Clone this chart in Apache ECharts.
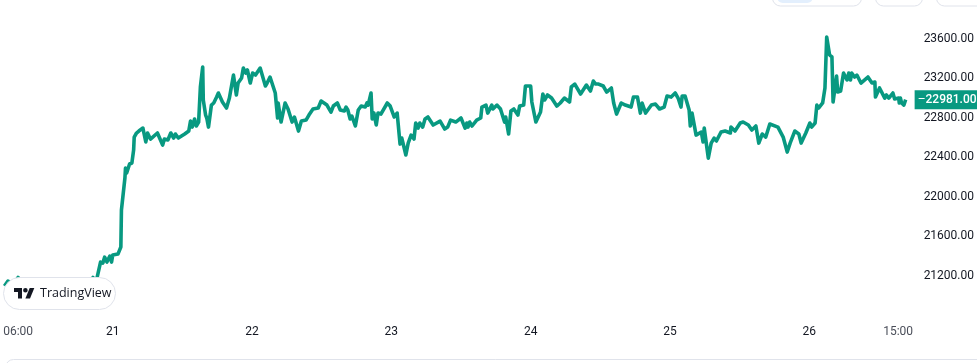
<!DOCTYPE html>
<html>
<head>
<meta charset="utf-8">
<title>Price chart</title>
<style>
  html, body { margin: 0; padding: 0; background: #fff; }
  #chart { width: 977px; height: 363px; }
</style>
</head>
<body>
<div id="chart"></div>
<script src="https://cdn.jsdelivr.net/npm/echarts@6/dist/echarts.min.js"></script>
<script>
const pricePoints = [
  [-18.65,21093],[-18.05,21143],[-17,21113],[-16.3,21180],[-15.6,21113],[-12.5,21100],[-9.1,21110],[-5.7,21100],[-4.2,21110],[-3.4,21180],[-2.9,21125],[-2.6,21204],
  [-2.1,21336],[-1.7,21326],[-1.4,21386],[-1,21336],[-0.5,21397],[-0.2,21336],[0,21407],[0.9,21417],[1.4,21488],[1.5,21863],[1.7,21883],
  [2.1,22187],[2.2,22288],[2.4,22238],[2.9,22329],[3.3,22339],[3.6,22470],[3.7,22602],[4.1,22643],[4.5,22663],[5.2,22693],[5.7,22552],[6,22643],
  [6.5,22582],[6.9,22602],[7.2,22582],[7.7,22643],[8.6,22521],[8.9,22582],[9.5,22572],[10,22643],[10.5,22592],[10.8,22633],[11.3,22592],[12.4,22633],
  [13.1,22663],[13.4,22764],[13.7,22703],[14.1,22785],[14.4,22714],[14.8,22754],[15.1,23109],[15.5,23311],[15.6,22977],[16,22825],[16.2,22795],[16.5,22703],
  [17,22926],[17.4,22947],[17.9,23007],[18.2,23048],[18.9,22957],[19.6,22896],[20.1,22997],[20.4,23007],[20.8,23230],[21.1,23230],[21.3,23028],[21.6,23149],
  [22.2,23200],[22.5,23301],[22.9,23250],[23.2,23281],[23.7,23149],[24.1,23250],[24.6,23230],[25.4,23301],[26.3,23119],[26.6,23149],[27.1,23210],
  [28,23048],[28.4,22795],[28.5,22947],[29,22754],[29.7,22947],[30.2,22886],[30.9,22754],[31.3,22805],[31.6,22795],[32,22663],[32.5,22764],[33.3,22774],
  [33.8,22825],[34,22845],[34.5,22886],[35.4,22896],[35.9,22967],[36.4,22947],[36.9,22926],[37.6,22855],[38,22916],[38.7,22947],[39.2,22876],[39.9,22866],
  [40.2,22906],[40.5,22876],[40.9,22785],[41.2,22815],[41.8,22714],[42.3,22876],[42.8,22916],[43.5,22906],[43.8,22947],[44,22926],[44.5,23048],[44.7,22785],
  [45,22845],[45.4,22724],[45.7,22845],[46.2,22835],[47.3,22947],[47.8,22916],[48.5,22805],[49,22845],[49.5,22531],[49.8,22592],[50.5,22420],[50.9,22541],
  [51.4,22622],[51.9,22582],[52.2,22744],[52.6,22693],[52.9,22744],[53.4,22703],[53.8,22785],[54.3,22805],[55.2,22724],[55.5,22744],[56.4,22764],[57.2,22683],
  [57.7,22703],[58.2,22774],[59.1,22754],[60,22795],[60.7,22693],[61,22744],[61.2,22703],[61.5,22754],[61.9,22714],[62.7,22774],[63.4,22795],[63.6,22906],
  [64.3,22926],[64.6,22845],[65.3,22926],[65.5,22886],[66.2,22926],[66.8,22886],[67.5,22754],[67.7,22805],[68.2,22633],[68.6,22866],[69.1,22886],[69.4,22886],
  [69.8,22825],[70.1,22916],[70.4,22896],[70.8,22926],[71.1,23119],[72,23119],[72.2,22957],[72.5,22947],[72.9,22754],[73.7,22855],[74.1,23038],[74.4,22977],
  [74.9,23028],[75.6,22997],[76.5,22916],[77.1,22947],[77.8,22997],[78.7,22957],[79,23109],[79.6,23139],[80.6,23038],[81.6,23129],[82.3,23068],[82.8,23169],
  [83.2,23139],[83.7,23139],[84.5,23119],[85.1,23058],[85.9,23099],[86.3,22947],[86.8,22835],[87.6,22947],[88.3,22926],[89.3,22906],[89.7,23007],[90.4,23007],
  [90.9,22845],[91.2,22947],[91.8,22845],[92.8,22926],[93.5,22936],[94.2,22886],[95,22906],[95.5,23018],[96.2,23007],[96.9,23048],[97.4,22997],[97.9,22906],
  [98.1,23018],[98.6,23018],[99.3,22876],[99.5,22714],[99.8,22845],[100.5,22622],[101.4,22653],[101.7,22552],[101.9,22693],[102.6,22389],[103.1,22541],
  [103.6,22592],[104,22562],[104.8,22653],[105.5,22663],[106.4,22643],[106.5,22703],[107.2,22663],[108.1,22744],[108.6,22754],[109.5,22724],[110.1,22673],
  [110.8,22714],[111.3,22541],[111.9,22633],[112.5,22602],[113.2,22734],[114.6,22703],[115.5,22602],[116.2,22450],[116.7,22541],[117.5,22663],[118.2,22633],
  [118.6,22541],[119.4,22643],[120.1,22744],[120.4,22703],[121,22744],[121.3,22926],[121.6,22896],[122.3,22947],[122.7,23099],[123,23615],[123.5,23433],
  [123.9,23413],[124.1,22957],[124.7,23220],[124.9,23058],[125.4,23068],[125.9,23250],[126.5,23180],[126.8,23250],[127.1,23180],[127.3,23250],[127.8,23210],
  [128.2,23230],[128.9,23149],[130.1,23210],[130.8,23149],[131.3,23159],[131.4,23007],[132.1,23099],[133,22997],[133.3,23028],[133.7,22997],[134.4,23048],
  [134.7,22987],[135.4,22997],[135.5,22947],[135.7,22997],[135.9,22947],[136.3,22926],[136.6,22981]
];
const lastPrice = 22981;

const priceTicks = [21200, 21600, 22000, 22400, 22800, 23200, 23600];
// the 06:00 label is pushed right of its real tick so it stays inside the pane
const timeTicks = [-16.3, 0, 24, 48, 72, 96, 120, 135.3];
const timeLabels = ['06:00', '21', '22', '23', '24', '25', '26', '15:00'];

const LINE_COLOR = '#089981';
const BORDER_COLOR = '#e0e3eb';
const FONT = 'Roboto, sans-serif';

const chart = echarts.init(document.getElementById('chart'), null, { renderer: 'canvas' });

chart.setOption({
  animation: false,
  backgroundColor: '#fff',
  grid: { left: 0, right: 63, top: 0, height: 315 },
  xAxis: {
    type: 'value',
    min: -19.42,
    max: 137.63,
    axisLine: { show: false },
    axisTick: { show: false },
    splitLine: { show: false },
    axisLabel: {
      customValues: timeTicks,
      margin: 11,
      hideOverlap: false,
      showMinLabel: true,
      showMaxLabel: true,
      formatter: (v) => {
        const label = timeLabels[timeTicks.indexOf(v)]
        return label.includes(':') ? '{hour|' + label + '}' : '{day|' + label + '}'
      },
      rich: {
        hour: { fontFamily: FONT, fontSize: 12, color: '#4a4e59' },
        day: { fontFamily: FONT, fontSize: 12, color: '#131722' },
      },
    },
  },
  yAxis: {
    type: 'value',
    position: 'right',
    min: 20800,
    max: 23990,
    interval: 400,
    axisLine: { show: false },
    axisTick: { show: false },
    splitLine: { show: false },
    axisLabel: {
      customValues: priceTicks,
      margin: 12,
      fontFamily: FONT,
      fontSize: 12,
      color: '#131722',
      formatter: (v) => v.toFixed(2),
    },
  },
  series: [
    {
      type: 'line',
      data: pricePoints,
      symbol: 'none',
      smooth: false,
      lineStyle: { color: LINE_COLOR, width: 3.6, join: 'round' },
      markLine: {
        silent: true,
        symbol: 'none',
        // invisible line, only its end label is wanted
        lineStyle: { color: 'rgba(0,0,0,0)', width: 1 },
        data: [{ yAxis: lastPrice }],
        label: {
          position: 'end',
          distance: 3,
          backgroundColor: LINE_COLOR,
          color: '#fff',
          padding: [3, 2, 3, 3],
          formatter: (p) => '{dash|–}{price|' + p.value.toFixed(2) + '}',
          rich: {
            dash: { fontFamily: FONT, fontSize: 12, lineHeight: 13, color: '#fff' },
            price: { fontFamily: FONT, fontSize: 12, lineHeight: 13, fontWeight: 500, color: '#fff' },
          },
        },
      },
    },
  ],
  // page furniture around the pane: toolbar buttons, footer box, TradingView badge
  graphic: [
    { type: 'rect', shape: { x: 772.5, y: -20, width: 89, height: 26, r: 8 }, style: { fill: '#fff', stroke: BORDER_COLOR }, z: 10 },
    { type: 'rect', shape: { x: 777, y: -20, width: 36, height: 23, r: 6 }, style: { fill: '#e3effd' }, z: 11 },
    { type: 'rect', shape: { x: 875.5, y: -20, width: 47, height: 26, r: 8 }, style: { fill: '#fff', stroke: BORDER_COLOR }, z: 10 },
    { type: 'rect', shape: { x: 936.5, y: -20, width: 60, height: 26, r: 8 }, style: { fill: '#fff', stroke: BORDER_COLOR }, z: 10 },
    { type: 'rect', shape: { x: 5.5, y: 359.5, width: 990, height: 30, r: 8 }, style: { fill: '#fff', stroke: BORDER_COLOR }, z: 10 },
    { type: 'rect', shape: { x: 3.5, y: 277.5, width: 112, height: 32, r: 16 }, style: { fill: '#fff', stroke: BORDER_COLOR }, z: 20 },
    { type: 'polygon', shape: { points: [[14, 288], [22, 288], [22, 298.5], [18, 298.5], [18, 292], [14, 292]] }, style: { fill: '#131722' }, z: 21 },
    { type: 'polygon', shape: { points: [[25.4, 298.5], [29.7, 288], [34.3, 288], [30, 298.5]] }, style: { fill: '#131722' }, z: 21 },
    { type: 'circle', shape: { cx: 25.4, cy: 290.3, r: 2.3 }, style: { fill: '#131722' }, z: 21 },
    {
      type: 'text',
      x: 40,
      y: 293.5,
      style: { text: 'TradingView', fontFamily: '"Open Sans", sans-serif', fontSize: 12.5, fontWeight: 500, fill: '#131722', textVerticalAlign: 'middle' },
      z: 21,
    },
  ],
});
</script>
</body>
</html>
